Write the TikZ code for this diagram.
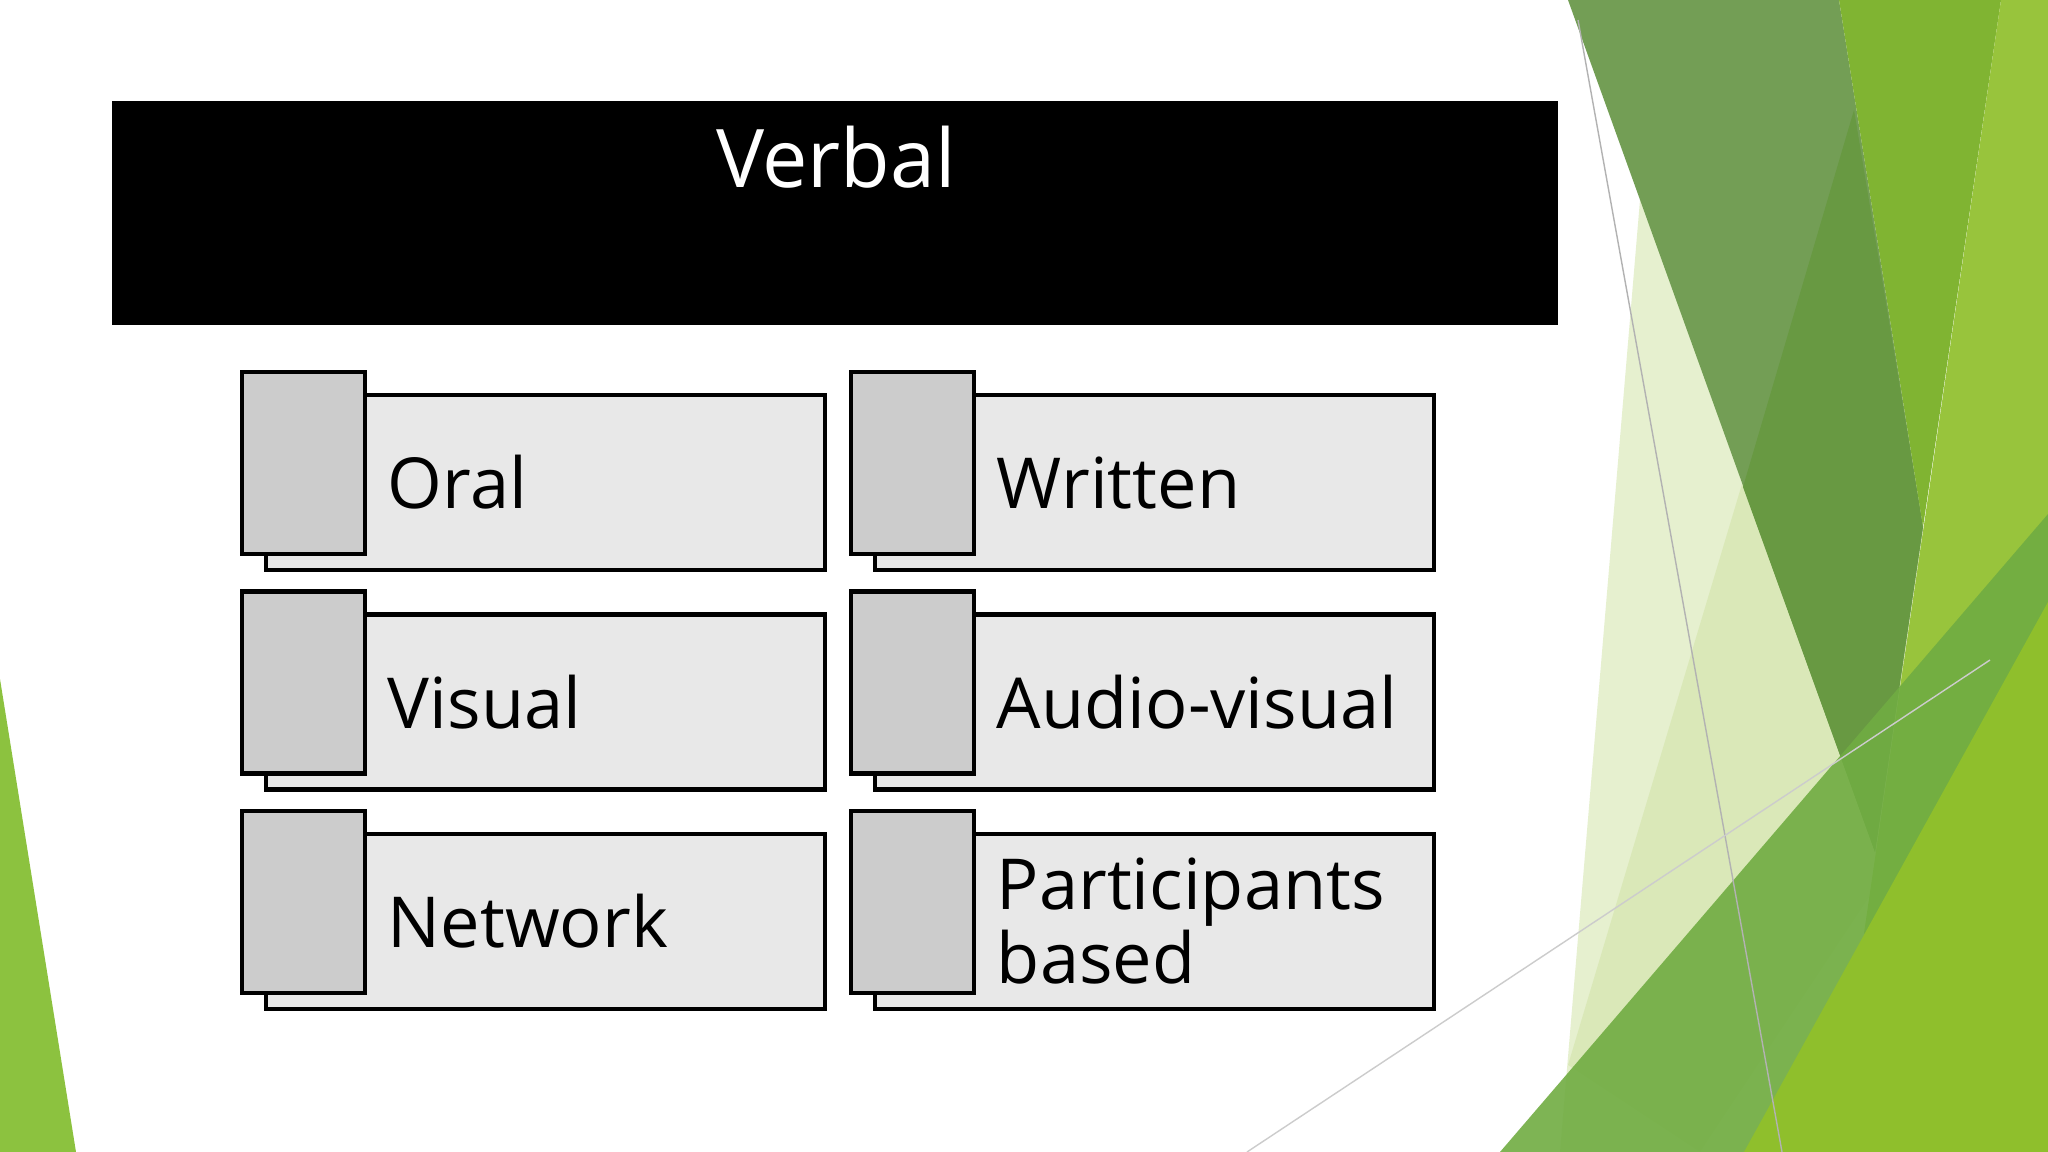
\documentclass[tikz,border=0pt]{standalone}
\usepackage{fontspec}
\setmainfont{Open Sans}
\definecolor{gA}{RGB}{115,158,85}
\definecolor{gB}{RGB}{104,153,66}
\definecolor{gC}{RGB}{128,180,50}
\definecolor{gD}{RGB}{152,196,60}
\definecolor{gE}{RGB}{112,172,66}
\definecolor{gF}{RGB}{143,191,44}
\definecolor{gG}{RGB}{140,194,63}
\definecolor{gP}{RGB}{200,222,150}
\begin{document}
\begin{tikzpicture}[x=0.01cm,y=-0.01cm,
  card/.style={draw=black,line width=1.2pt,fill=gray!18,minimum width=559*0.01cm,minimum height=175*0.01cm,anchor=north west,inner sep=0pt},
  tab/.style={draw=black,line width=1.2pt,fill=gray!40,minimum width=123*0.01cm,minimum height=182*0.01cm,anchor=north west,inner sep=0pt},
  lbl/.style={anchor=west,align=left,font=\fontsize{20}{21}\selectfont,inner sep=0pt}]
\useasboundingbox (0,0) rectangle (2048,1152);
\fill[white] (0,0) rectangle (2048,1152);
% background shapes
\fill[gP,opacity=0.45] (1640,200) -- (1960,760) -- (1790,1152) -- (1560,1152) -- cycle;
\fill[gP,opacity=0.4] (1568,1065) -- (1854,110) -- (1960,760) -- (1700,1152) -- cycle;
\fill[gA] (1568,0) -- (1839,0) -- (1923,527) -- (1875,852) -- cycle;
\fill[gB] (1854,110) -- (1923,527) -- (1875,852) -- (1743,487) -- cycle;
\fill[gC] (1839,0) -- (2001,0) -- (1923,527) -- cycle;
\fill[gD] (2001,0) -- (2048,0) -- (2048,1152) -- (1864,933) -- cycle;
\fill[gE,opacity=0.9] (1500,1152) -- (2048,514) -- (2048,1152) -- cycle;
\fill[gF] (1744,1152) -- (2048,602) -- (2048,1152) -- cycle;
\fill[gG] (0,679) -- (76,1152) -- (0,1152) -- cycle;
\draw[gray!60,line width=0.4pt] (1578,20) -- (1782,1152);
\draw[gray!40,line width=0.4pt] (1247,1152) -- (1990,660);
% title banner
\fill[black] (112,101) rectangle (1558,325);
\node[text=white,font=\fontsize{23}{24}\selectfont] (title) at (836,157) {Verbal};
% cards
\foreach \c/\x in {0/0,1/609}{
  \foreach \r in {0,1,2}{
    \node[card] (card\c\r) at (264+\x,393+219.4*\r) {};
    \node[tab] (tab\c\r) at (240+\x,370+219.4*\r) {};
  }
}
\node[lbl] (t00) at ([xshift=20*0.01cm]card00.west -| tab00.east) {Oral};
\node[lbl] (t01) at ([xshift=20*0.01cm]card01.west -| tab01.east) {Visual};
\node[lbl] (t02) at ([xshift=20*0.01cm]card02.west -| tab02.east) {Network};
\node[lbl] (t10) at ([xshift=20*0.01cm]card10.west -| tab10.east) {Written};
\node[lbl] (t11) at ([xshift=20*0.01cm]card11.west -| tab11.east) {Audio-visual};
\node[lbl] (t12) at ([xshift=20*0.01cm]card12.west -| tab12.east) {Participants\\based};
\end{tikzpicture}
\end{document}
